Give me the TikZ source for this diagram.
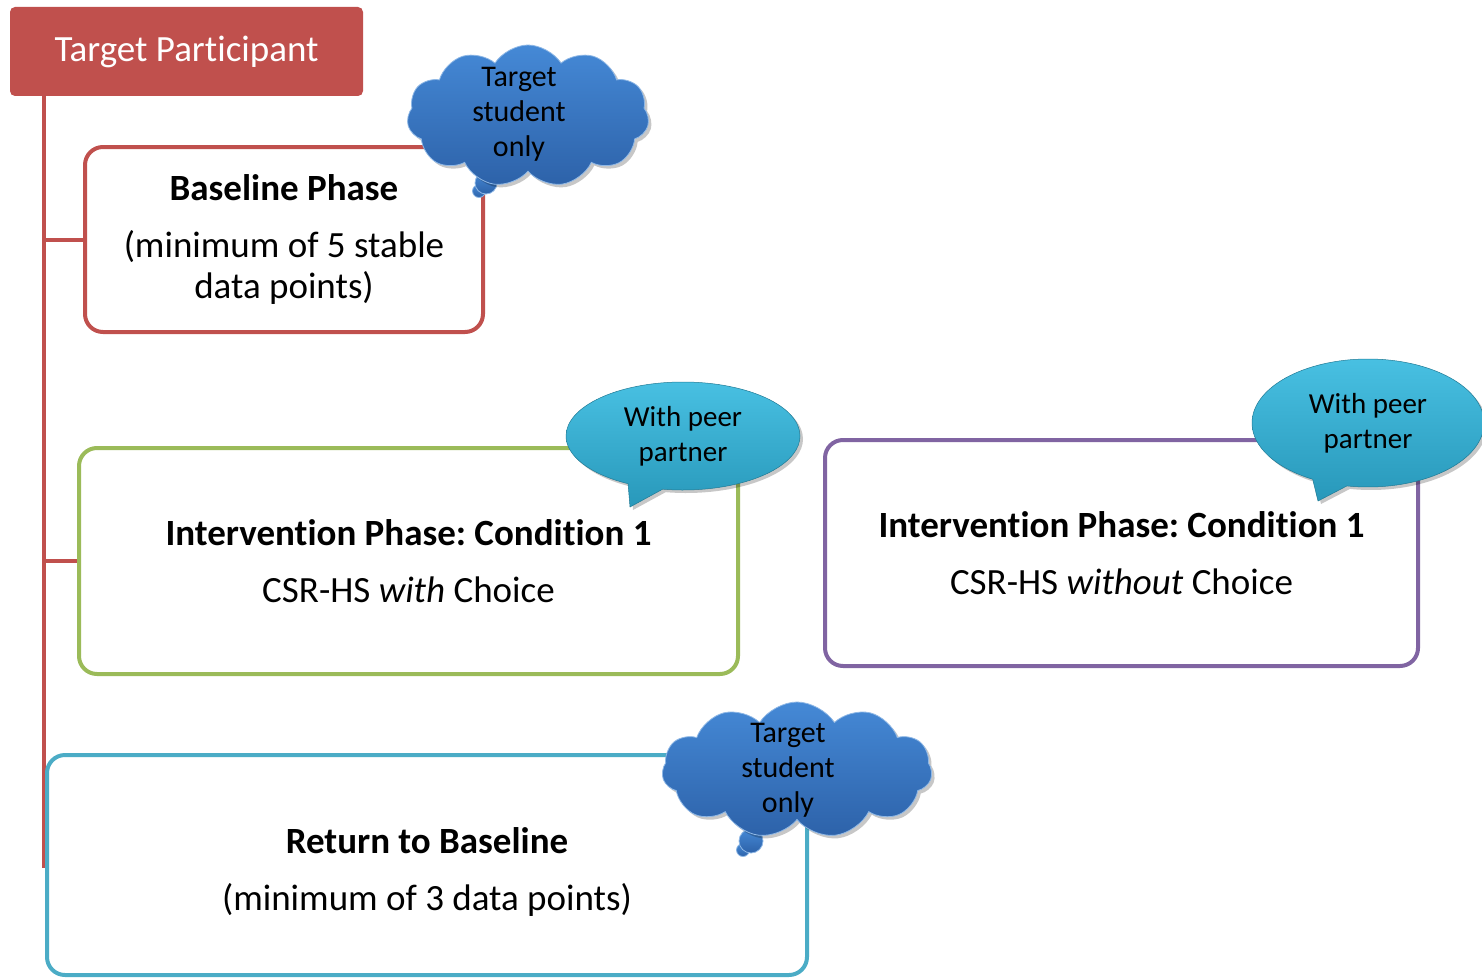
\documentclass[tikz,border=0pt]{standalone}
\usepackage{fontspec}
\setmainfont{Carlito}[Ligatures={NoCommon}]
\usetikzlibrary{shapes.symbols,shapes.callouts,shadows}
\frenchspacing

\definecolor{tpred}{HTML}{C0504D}
\definecolor{phgreen}{HTML}{9BBB59}
\definecolor{phpurple}{HTML}{8064A2}
\definecolor{phblue}{HTML}{4BACC6}
\definecolor{cloudtop}{HTML}{4589D6}
\definecolor{cloudbot}{HTML}{2D62A9}
\definecolor{bubtop}{HTML}{48C0E2}
\definecolor{bubbot}{HTML}{2898BA}

\tikzset{
  header/.style={fill=tpred, text=white, rounded corners=5pt,
    minimum width=353pt, minimum height=89pt, inner sep=0pt,
    font=\fontsize{37}{44}\selectfont},
  phasebox/.style={draw=#1, line width=4pt, rounded corners=18pt, fill=white,
    align=center, inner sep=0pt, font=\fontsize{37}{41}\selectfont},
  boxtext/.style={align=center, inner sep=0pt, font=\fontsize{37}{41}\selectfont},
  trunk/.style={draw=tpred, line width=4.5pt},
  cloudfill/.style={top color=cloudtop, bottom color=cloudbot,
    draw=cloudtop!60!white, line width=0.8pt},
  thought/.style={cloud, cloud puffs=11, cloud puff arc=115, aspect=1.8,
    cloud ignores aspect, cloudfill, inner sep=0pt,
    drop shadow={fill=black, opacity=0.22, shadow xshift=3pt, shadow yshift=-3pt}},
  puff/.style={circle, cloudfill, inner sep=0pt, minimum size=#1},
  cloudtext/.style={align=center, inner sep=0pt, font=\fontsize{30}{35}\selectfont},
  speech/.style={ellipse callout, callout pointer arc=18,
    top color=bubtop, bottom color=bubbot, draw=bubbot!80!black, line width=0.5pt,
    align=center, inner sep=0pt, font=\fontsize{29}{35}\selectfont,
    drop shadow={fill=black, opacity=0.22, shadow xshift=3pt, shadow yshift=-3pt}}
}

\begin{document}
\begin{tikzpicture}[x=1pt, y=-1pt]
  \useasboundingbox (0,0) rectangle (1482,979);

  % title block
  \node[header] (tp) at (186.5,51.5) {Target Participant};

  % trunk of the tree
  \coordinate (trunktop) at (44,96);
  \coordinate (trunkend) at (44,868);
  \draw[trunk] (trunktop) -- (trunkend);

  % phase boxes
  \node[phasebox=tpred, minimum width=398pt, minimum height=185pt] (base) at (284,239.5)
    {\textbf{Baseline Phase}\\[16pt](minimum of 5 stable\\data points)};
  \node[phasebox=phgreen, minimum width=659pt, minimum height=226pt] (int1) at (408.5,561)
    {\textbf{Intervention Phase: Condition 1}\\[16pt]CSR-HS \textit{with} Choice};
  \node[phasebox=phpurple, minimum width=593pt, minimum height=226pt] (int2) at (1121.5,553)
    {\textbf{Intervention Phase: Condition 1}\\[16pt]CSR-HS \textit{without} Choice};
  \node[phasebox=phblue, minimum width=760pt, minimum height=220pt] (ret) at (427,865) {};
  \node[boxtext] (rett) at (427,872)
    {\textbf{Return to Baseline}\\[16pt](minimum of 3 data points)};

  % branches from the trunk
  \draw[trunk, line width=4pt] (trunktop |- base.west) -- (base.west);
  \draw[trunk, line width=4pt] (trunktop |- int1.west) -- (int1.west);

  % thought cloud over the baseline phase
  \node[puff=13pt] (c1b) at (479,191) {};
  \node[puff=22pt] (c1a) at (486,183) {};
  \node[thought, minimum width=242pt, minimum height=142pt] (c1) at (528,116) {};
  \node[cloudtext] (c1t) at (519,114) {Target\\student\\only};

  % speech bubbles
  \node[speech, minimum width=234pt, minimum height=108pt,
        callout absolute pointer={(630,507)}] (b1) at (683,436)
    {With peer\\partner};
  \node[speech, minimum width=232pt, minimum height=128pt,
        callout absolute pointer={(1318,501)}] (b2) at (1368,423)
    {With peer\\partner};

  % thought cloud over the return phase
  \node[puff=13pt] (c2b) at (743,850) {};
  \node[puff=24pt] (c2a) at (751,841) {};
  \node[thought, minimum width=270pt, minimum height=136pt] (c2) at (797,770) {};
  \node[cloudtext] (c2t) at (788,770) {Target\\student\\only};
\end{tikzpicture}
\end{document}
